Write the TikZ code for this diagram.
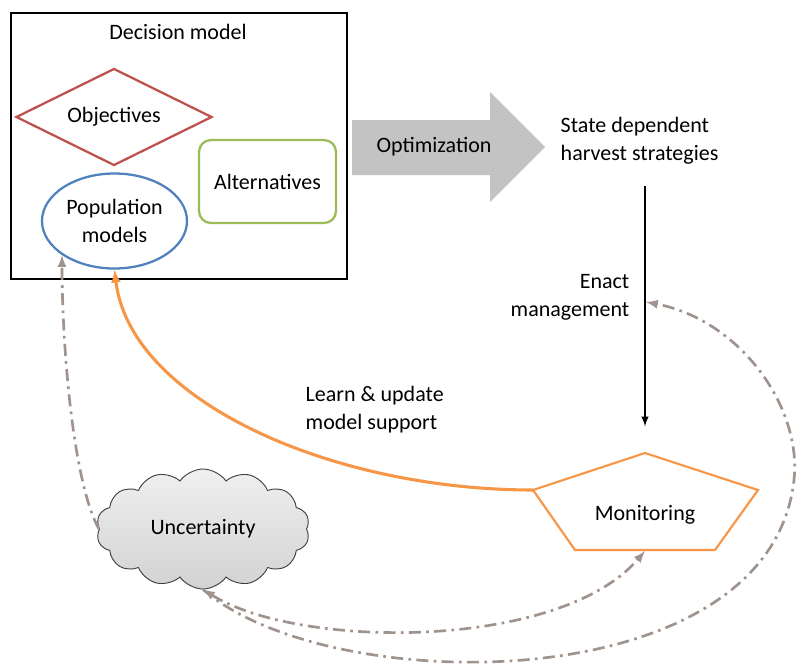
\documentclass[tikz,border=0pt]{standalone}
\usepackage{fontspec}
\setmainfont{Carlito}
\usetikzlibrary{positioning,shapes,arrows}

\definecolor{objred}{HTML}{C0504D}
\definecolor{popblue}{HTML}{4F81BD}
\definecolor{altgreen}{HTML}{9BBB59}
\definecolor{monorange}{HTML}{F79646}
\definecolor{optgray}{HTML}{C3C3C3}
\definecolor{uncgray}{HTML}{A0938E}

\begin{document}
\begin{tikzpicture}[x=0.75pt,y=-0.75pt,
  font=\fontsize{16.5}{21}\selectfont,
  dashdot/.style={draw=uncgray, line width=2pt, dash pattern=on 9pt off 4pt on 2pt off 4pt, -latex},
  shapeline/.style={line width=1.7pt}]
\useasboundingbox (0,0) rectangle (803,664);
% Entscheidungsmodell
\node[draw, line width=0.8pt, minimum width=252pt, minimum height=199.5pt] (decision) at (179,146) {};
\node (dmlabel) at (178,32) {Decision model};
\node[diamond, aspect=2, draw=objred, shapeline, inner sep=0pt, minimum width=147pt, minimum height=72.75pt] (obj) at (114,117) {Objectives};
\node[ellipse, draw=popblue, shapeline, inner sep=0pt, minimum width=108.75pt, minimum height=71.25pt, align=center] (pop) at (114.5,221) {Population\\models};
\node[draw=altgreen, shapeline, rounded corners=9pt, minimum width=102.75pt, minimum height=62.25pt] (alt) at (267.5,181.5) {Alternatives};
% Optimierung
\fill[optgray] (352,120) -- (490,120) -- (490,92) -- (545,147) -- (490,202) -- (490,175) -- (352,175) -- cycle;
\node (opt) at (434,147) {Optimization};
\node[anchor=west, align=left] (strat) at (556,141) {State dependent\\harvest strategies};
% Management
\coordinate (enact) at (645,186);
\coordinate (enactmid) at (646,302);
\node[anchor=east, align=right] (enactlbl) at (634,297) {Enact\\management};
% Monitoring
\coordinate (m1) at (645,453);
\coordinate (m2) at (758,490);
\coordinate (m3) at (715,550);
\coordinate (m4) at (575,550);
\coordinate (m5) at (533,490);
\coordinate (mbot) at (645,551);
\draw[monorange, line width=1.6pt, line join=miter] (m1) -- (m2) -- (m3) -- (m4) -- (m5) -- cycle;
\node (mon) at (645,515) {Monitoring};
\draw[-latex, line width=1.5pt] (enact) -- (m1) [shorten >=20pt];
% Lernen
\draw[-latex, monorange, line width=2.3pt] (m5) .. controls (330,490) and (130,400) .. (pop.270);
\node[anchor=west, align=left] (learnlbl) at (301,410) {Learn \& update\\model support};
% Unsicherheit
\node[cloud, cloud puffs=14, cloud puff arc=110, aspect=1.6, draw=black!75, line width=0.7pt, top color=gray!12, bottom color=gray!35, inner sep=0pt, minimum width=160pt, minimum height=90pt] (unc) at (203,529) {Uncertainty};
\draw[dashdot] (unc.west) .. controls (72,480) and (62,340) .. (pop.213);
\draw[dashdot, latex-latex] (unc.south) .. controls (300,650) and (560,650) .. (mbot);
\draw[dashdot] (unc.south) .. controls (330,700) and (770,700) .. (794,480) .. controls (802,407) and (740,320) .. (enactmid);
\end{tikzpicture}
\end{document}
